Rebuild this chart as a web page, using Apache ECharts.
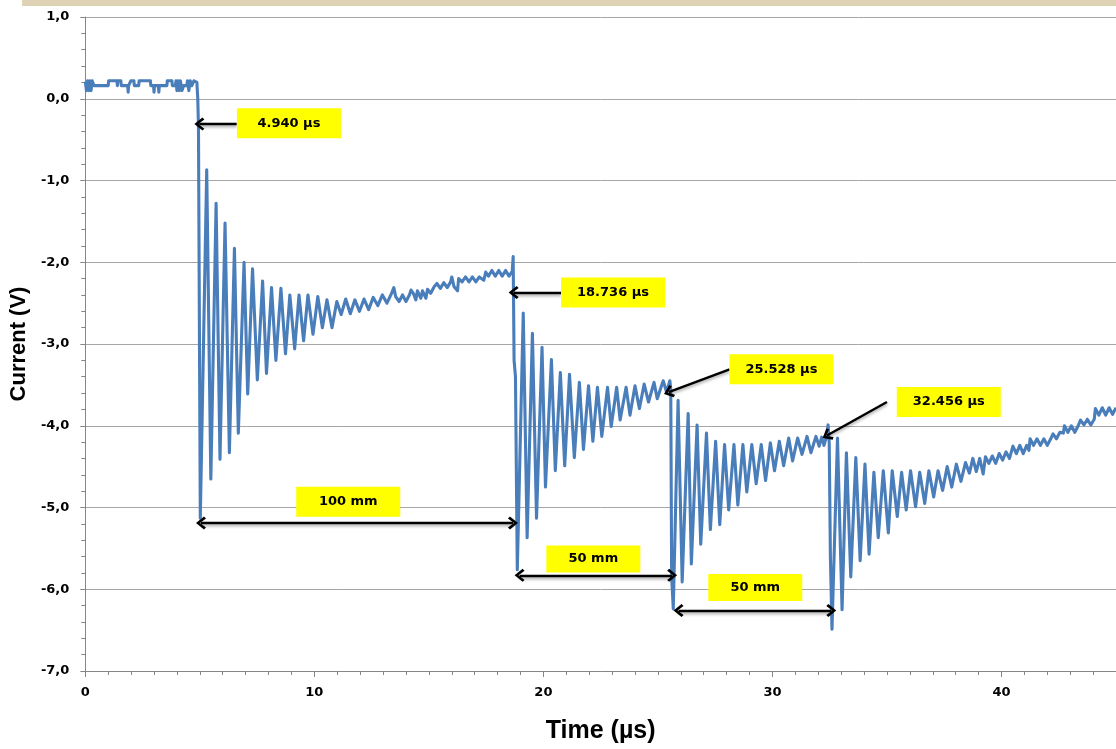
<!DOCTYPE html>
<html>
<head>
<meta charset="utf-8">
<script src="https://cdn.jsdelivr.net/npm/echarts@6/dist/echarts.min.js"></script>
<style>
html,body{margin:0;padding:0;background:#fff;}
#chart{width:1116px;height:749px;}
</style>
</head>
<body>
<div id="chart"></div>
<script>
// ---------- DATA (time in µs, current in V) ----------
const xTickLabels = ['0', '10', '20', '30', '40'];
const yTickLabels = ['1,0', '0,0', '-1,0', '-2,0', '-3,0', '-4,0', '-5,0', '-6,0', '-7,0'];

const preTrigger = [
  [0.00,0.21],[0.05,0.10],[0.10,0.22],[0.15,0.10],[0.20,0.22],[0.25,0.10],[0.30,0.22],[0.38,0.16],
  [1.00,0.16],[1.02,0.22],[1.38,0.22],[1.40,0.16],[1.42,0.22],[1.55,0.22],[1.57,0.16],
  [1.85,0.16],[1.87,0.08],[1.89,0.16],[1.97,0.16],[1.99,0.22],[2.12,0.22],[2.14,0.16],
  [2.33,0.16],[2.35,0.22],[2.84,0.22],[2.86,0.16],[2.98,0.16],[3.00,0.08],[3.02,0.16],
  [3.19,0.16],[3.21,0.08],[3.23,0.16],[3.56,0.16],[3.58,0.22],[3.78,0.22],[3.80,0.16],
  [3.93,0.16],[3.96,0.22],[4.00,0.10],[4.05,0.22],[4.10,0.10],[4.15,0.22],[4.22,0.10],[4.29,0.16],
  [4.43,0.16],[4.46,0.22],[4.52,0.10],[4.58,0.22],[4.65,0.16],[4.72,0.16],[4.74,0.22],[4.87,0.20],
  [4.91,0.00],[4.94,-0.35]
];

const echo1 = [
  [5.02,-5.13],[5.30,-0.87],[5.48,-4.65],[5.71,-1.28],[5.88,-4.41],[6.10,-1.52],[6.29,-4.33],
  [6.51,-1.83],[6.68,-4.09],[6.93,-2.00],[7.09,-3.61],[7.30,-2.08],[7.51,-3.44],[7.74,-2.23],
  [7.91,-3.36],[8.13,-2.31],[8.32,-3.20],[8.54,-2.32],[8.74,-3.12],[8.93,-2.40],[9.14,-3.06],
  [9.33,-2.40],[9.53,-2.96],[9.72,-2.40],[9.94,-2.88],[10.15,-2.42],[10.35,-2.80],[10.55,-2.46],
  [10.77,-2.80],[10.98,-2.48],[11.17,-2.64],[11.37,-2.45],[11.57,-2.63],[11.77,-2.46],[11.97,-2.60],
  [12.17,-2.45],[12.37,-2.58],[12.57,-2.43],[12.77,-2.53],[12.97,-2.40],[13.17,-2.50],[13.37,-2.38],
  [13.47,-2.31],[13.55,-2.42],[13.70,-2.48],[13.85,-2.40],[14.00,-2.48],[14.15,-2.40],[14.22,-2.34],
  [14.32,-2.38],[14.43,-2.46],[14.50,-2.35],[14.65,-2.44],[14.72,-2.35],[14.87,-2.44],[14.94,-2.33],
  [15.08,-2.38],[15.23,-2.30],[15.35,-2.26],[15.50,-2.32],[15.65,-2.25],[15.80,-2.31],[15.95,-2.24],
  [16.00,-2.18],[16.10,-2.30],[16.25,-2.35],[16.30,-2.20],[16.45,-2.24],[16.60,-2.18],[16.75,-2.24],
  [16.90,-2.18],[17.05,-2.24],[17.20,-2.18],[17.40,-2.22],[17.48,-2.12],[17.60,-2.17],[17.75,-2.10],
  [17.90,-2.17],[18.05,-2.10],[18.20,-2.17],[18.35,-2.10],[18.50,-2.17],[18.64,-2.11],[18.68,-1.93],
  [18.72,-3.20],[18.78,-3.40]
];

const echo2 = [
  [18.86,-5.76],[19.12,-2.62],[19.29,-5.37],[19.52,-2.87],[19.70,-5.13],[19.94,-3.04],[20.09,-4.75],
  [20.35,-3.19],[20.52,-4.55],[20.74,-3.35],[20.93,-4.49],[21.14,-3.37],[21.35,-4.39],[21.57,-3.47],
  [21.75,-4.29],[21.97,-3.51],[22.16,-4.19],[22.36,-3.53],[22.55,-4.13],[22.80,-3.53],[22.96,-4.01],
  [23.20,-3.53],[23.35,-3.93],[23.61,-3.53],[23.78,-3.87],[24.00,-3.51],[24.19,-3.79],[24.40,-3.49],
  [24.59,-3.71],[24.83,-3.47],[24.97,-3.67],[25.23,-3.45],[25.38,-3.59],[25.52,-3.45],[25.56,-3.55],
  [25.60,-5.85]
];

const echo3 = [
  [25.67,-6.24],[25.88,-3.69],[26.06,-5.91],[26.32,-3.85],[26.46,-5.69],[26.71,-3.99],[26.87,-5.45],
  [27.12,-4.09],[27.29,-5.27],[27.52,-4.19],[27.70,-5.21],[27.91,-4.23],[28.09,-5.03],[28.32,-4.23],
  [28.49,-4.97],[28.71,-4.23],[28.88,-4.81],[29.10,-4.23],[29.29,-4.71],[29.51,-4.23],[29.70,-4.67],
  [29.91,-4.21],[30.09,-4.55],[30.30,-4.19],[30.49,-4.49],[30.71,-4.15],[30.88,-4.43],[31.10,-4.15],
  [31.29,-4.35],[31.51,-4.13],[31.68,-4.33],[31.90,-4.13],[32.04,-4.25],[32.15,-4.14],[32.25,-4.24],
  [32.35,-4.14],[32.43,-3.99],[32.48,-4.22],[32.53,-5.60]
];

const echo4 = [
  [32.60,-6.49],[32.84,-4.15],[33.04,-6.25],[33.23,-4.33],[33.42,-5.85],[33.64,-4.39],[33.83,-5.65],
  [34.04,-4.47],[34.22,-5.57],[34.43,-4.57],[34.62,-5.37],[34.84,-4.55],[35.06,-5.31],[35.23,-4.55],
  [35.45,-5.11],[35.64,-4.57],[35.84,-5.03],[36.03,-4.55],[36.25,-4.99],[36.43,-4.57],[36.65,-4.95],
  [36.83,-4.55],[37.04,-4.87],[37.23,-4.55],[37.43,-4.79],[37.63,-4.50],[37.83,-4.75],[38.03,-4.47],
  [38.23,-4.68],[38.43,-4.45],[38.60,-4.58],[38.75,-4.40],[38.90,-4.56],[39.05,-4.40],[39.20,-4.59],
  [39.30,-4.38],[39.45,-4.46],[39.60,-4.37],[39.75,-4.46],[39.90,-4.34],[40.05,-4.42],[40.20,-4.32],
  [40.35,-4.40],[40.50,-4.25],[40.65,-4.34],[40.80,-4.24],[40.95,-4.34],[41.10,-4.24],[41.20,-4.30],
  [41.25,-4.16],[41.40,-4.24],[41.55,-4.16],[41.70,-4.24],[41.85,-4.16],[42.00,-4.24],[42.15,-4.16],
  [42.25,-4.10],[42.40,-4.16],[42.55,-4.08],[42.70,-4.09],[42.75,-4.00],[42.90,-4.08],[43.05,-4.00],
  [43.20,-4.08],[43.35,-4.00],[43.45,-3.93],[43.60,-3.99],[43.75,-3.92],[43.90,-3.99],[44.05,-3.92],
  [44.10,-3.79],[44.25,-3.87],[44.40,-3.78],[44.55,-3.87],[44.70,-3.78],[44.85,-3.86],[45.00,-3.78]
];

const timeLabels = ['4.940 µs', '18.736 µs', '25.528 µs', '32.456 µs'];
const distanceLabels = ['100 mm', '50 mm', '50 mm'];

// ---------- ANNOTATION LAYOUT (data coordinates) ----------
const timeBoxAt = [[8.89,-0.30],[23.04,-2.37],[30.39,-3.31],[37.70,-3.71]];
const timeArrowAt = [
  [[6.61,-0.31],[4.98,-0.31]],
  [[20.78,-2.37],[18.70,-2.37]],
  [[28.13,-3.31],[25.47,-3.59]],
  [[35.00,-3.71],[32.38,-4.12]]
];
const distBoxAt = [[11.48,-4.93],[22.18,-5.63],[29.25,-5.98]];
const distArrowAt = [
  [[5.05,-5.19],[18.67,-5.19]],
  [[18.96,-5.83],[25.62,-5.83]],
  [[25.90,-6.26],[32.57,-6.26]]
];

const signal = [].concat(preTrigger, echo1, echo2, echo3, echo4);

const chevron = 'path://M10,0 L20,10 L17,12.5 L10,5 L3,12.5 L0,10 Z';
const FONT = 'DejaVu Sans';

const markLines = [];
timeArrowAt.forEach(a => markLines.push([
  {coord: a[0], symbol: 'none'},
  {coord: a[1], symbol: chevron}
]));
distArrowAt.forEach(a => markLines.push([
  {coord: a[0], symbol: chevron},
  {coord: a[1], symbol: chevron}
]));

const markPts = [];
timeLabels.forEach((t, i) => markPts.push({name: t, coord: timeBoxAt[i], symbolSize: [104, 30]}));
distanceLabels.forEach((t, i) => markPts.push({name: t, coord: distBoxAt[i], symbolSize: i === 0 ? [104, 30] : [94, 27]}));

const chart = echarts.init(document.getElementById('chart'), null, {renderer: 'canvas'});
chart.setOption({
  animation: false,
  backgroundColor: '#ffffff',
  graphic: [{
    type: 'rect', left: 22, top: 0, shape: {width: 1094, height: 6},
    style: {fill: '#ded3b4'}, silent: true, z: 100
  }],
  grid: {left: 83, top: 17, width: 1035, height: 662, containLabel: false},
  xAxis: {
    type: 'value', min: 0, max: 45, interval: 10,
    name: 'Time (µs)', nameLocation: 'middle', nameGap: 48,
    nameTextStyle: {fontFamily: 'Liberation Sans', fontWeight: 'bold', fontSize: 25, color: '#000'},
    axisLine: {show: true, onZero: false, lineStyle: {color: '#868686', width: 1}},
    axisTick: {show: true, length: 6, lineStyle: {color: '#868686'}},
    minorTick: {show: true, splitNumber: 10, length: 4, lineStyle: {color: '#868686'}},
    splitLine: {show: false},
    axisLabel: {
      margin: 15, fontFamily: FONT, fontWeight: 'bold', fontSize: 13, color: '#000',
      showMaxLabel: false,
      formatter: v => { const i = Math.round(v / 10); return (v % 10 === 0 && i < xTickLabels.length) ? xTickLabels[i] : ''; }
    }
  },
  yAxis: {
    type: 'value', min: -7, max: 1, interval: 1,
    name: 'Current (V)', nameLocation: 'middle', nameGap: 46, nameRotate: 90,
    nameTextStyle: {fontFamily: 'Liberation Sans', fontWeight: 'bold', fontSize: 22, color: '#000'},
    axisLine: {show: true, lineStyle: {color: '#868686', width: 1}},
    axisTick: {show: true, length: 5, lineStyle: {color: '#868686'}},
    minorTick: {show: true, splitNumber: 5, length: 4, lineStyle: {color: '#868686'}},
    splitLine: {show: true, lineStyle: {color: '#a6a6a6', width: 1}},
    axisLabel: {
      margin: 16, fontFamily: FONT, fontWeight: 'bold', fontSize: 13, color: '#000',
      formatter: v => yTickLabels[Math.round(1 - v)]
    }
  },
  series: [{
    type: 'line',
    name: 'Current',
    data: signal,
    showSymbol: false,
    symbol: 'none',
    sampling: null,
    lineStyle: {color: '#4a7ebb', width: 3.1, join: 'round'},
    z: 3,
    markLine: {
      silent: true,
      symbolSize: [13, 10],
      label: {show: false},
      lineStyle: {color: '#000', width: 2.4, type: 'solid',
        shadowColor: 'rgba(0,0,0,0.35)', shadowBlur: 3, shadowOffsetY: 2},
      itemStyle: {color: '#000'},
      data: markLines,
      z: 5
    },
    markPoint: {
      silent: true,
      symbol: 'rect',
      itemStyle: {color: '#ffff00'},
      label: {show: true, position: 'inside', formatter: p => p.name,
        fontFamily: FONT, fontWeight: 'bold', fontSize: 13, color: '#000'},
      data: markPts,
      z: 6
    }
  }]
});
</script>
</body>
</html>
